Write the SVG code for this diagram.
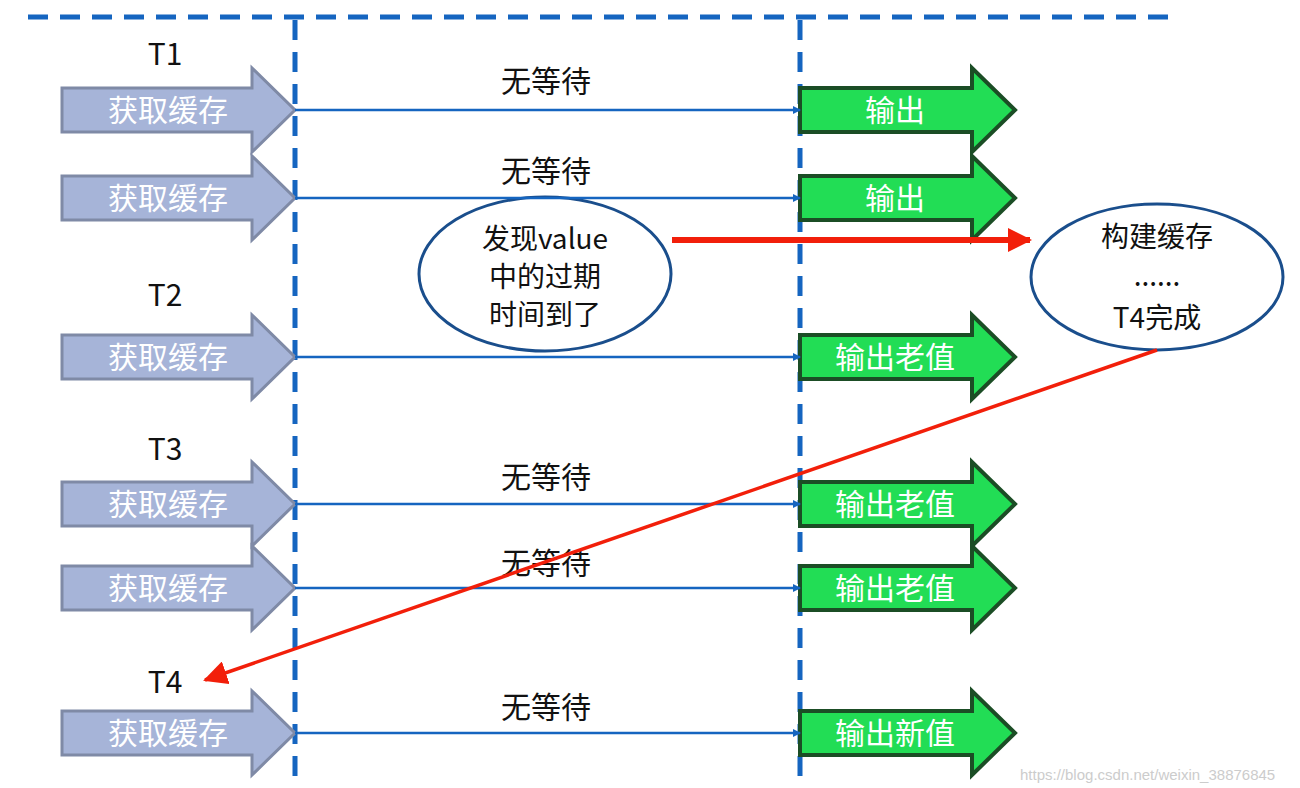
<svg xmlns="http://www.w3.org/2000/svg" width="1300" height="788" viewBox="0 0 1300 788">
<style>
.dash{stroke:#1565c0;stroke-width:5;stroke-dasharray:20 12;fill:none}
.in{fill:#a6b4d8;stroke:#7f8aa6;stroke-width:3}
.out{fill:#22dd55;stroke:#1b4d25;stroke-width:4}
.lbl{font-family:"Noto Sans CJK SC","Liberation Sans",sans-serif;font-size:30px;fill:#fff;text-anchor:middle}
.t{font-family:"Noto Sans CJK SC","Liberation Sans",sans-serif;font-size:30px;fill:#111;text-anchor:middle}
.e{font-family:"Noto Sans CJK SC","Liberation Sans",sans-serif;font-size:28px;fill:#111;text-anchor:middle}
.ln{stroke:#1565c0;stroke-width:2.5;fill:none}
</style>
<defs>
<marker id="ah" markerWidth="8" markerHeight="8" refX="7" refY="4" orient="auto" markerUnits="userSpaceOnUse"><path d="M0,0 L8,4 L0,8z" fill="#1565c0"/></marker>
<marker id="rh" markerWidth="24" markerHeight="24" refX="22" refY="12" orient="auto" markerUnits="userSpaceOnUse"><path d="M0,0 L24,12 L0,24z" fill="#f21f0a"/></marker>
<path id="ia" d="M62,-22 H252 V-42 L295,0 L252,42 V22 H62z"/>
<path id="oa" d="M800,-22 H972 V-42 L1015,0 L972,42 V22 H800z"/>
</defs>
<g id="frame">
<line class="dash" x1="28" y1="17" x2="1170" y2="17"/>
<line class="dash" x1="295" y1="20" x2="295" y2="788"/>
<line class="dash" x1="800" y1="20" x2="800" y2="788"/>
</g>
<g id="nodes">
<g id="r1" transform="translate(0,110)"><use href="#ia" class="in"/><text class="lbl" x="168" y="11">获取缓存</text><use href="#oa" class="out"/><text class="lbl" x="895" y="11">输出</text></g>
<g id="r2" transform="translate(0,198)"><use href="#ia" class="in"/><text class="lbl" x="168" y="11">获取缓存</text><use href="#oa" class="out"/><text class="lbl" x="895" y="11">输出</text></g>
<g id="r3" transform="translate(0,357)"><use href="#ia" class="in"/><text class="lbl" x="168" y="11">获取缓存</text><use href="#oa" class="out"/><text class="lbl" x="895" y="11">输出老值</text></g>
<g id="r4" transform="translate(0,504)"><use href="#ia" class="in"/><text class="lbl" x="168" y="11">获取缓存</text><use href="#oa" class="out"/><text class="lbl" x="895" y="11">输出老值</text></g>
<g id="r5" transform="translate(0,588)"><use href="#ia" class="in"/><text class="lbl" x="168" y="11">获取缓存</text><use href="#oa" class="out"/><text class="lbl" x="895" y="11">输出老值</text></g>
<g id="r6" transform="translate(0,733)"><use href="#ia" class="in"/><text class="lbl" x="168" y="11">获取缓存</text><use href="#oa" class="out"/><text class="lbl" x="895" y="11">输出新值</text></g>
<g id="e1"><ellipse cx="545" cy="274" rx="126" ry="77" fill="#fff" stroke="#1a4e8c" stroke-width="3"/>
<text class="e" x="545" y="249">发现value</text><text class="e" x="545" y="287">中的过期</text><text class="e" x="545" y="325">时间到了</text></g>
<g id="e2"><ellipse cx="1157" cy="277" rx="126" ry="73" fill="#fff" stroke="#1a4e8c" stroke-width="3"/>
<text class="e" x="1157" y="247">构建缓存</text><text class="e" x="1157" y="286">......</text><text class="e" x="1157" y="328">T4完成</text></g>
<g id="labels">
<text class="t" x="165" y="65">T1</text><text class="t" x="165" y="306">T2</text><text class="t" x="165" y="460">T3</text><text class="t" x="165" y="693">T4</text>
<text class="t" x="546" y="92">无等待</text><text class="t" x="546" y="182">无等待</text><text class="t" x="546" y="488">无等待</text><text class="t" x="546" y="574">无等待</text><text class="t" x="546" y="718">无等待</text>
</g>
</g>
<g id="connectors">
<line class="ln" x1="295" y1="110" x2="800" y2="110" marker-end="url(#ah)"/>
<line class="ln" x1="295" y1="198" x2="800" y2="198" marker-end="url(#ah)"/>
<line class="ln" x1="295" y1="357" x2="800" y2="357" marker-end="url(#ah)"/>
<line class="ln" x1="295" y1="504" x2="800" y2="504" marker-end="url(#ah)"/>
<line class="ln" x1="295" y1="588" x2="800" y2="588" marker-end="url(#ah)"/>
<line class="ln" x1="295" y1="733" x2="800" y2="733" marker-end="url(#ah)"/>
<line x1="672" y1="240" x2="1030" y2="240" stroke="#f21f0a" stroke-width="6" marker-end="url(#rh)"/>
<line x1="1157" y1="350" x2="205" y2="680" stroke="#f21f0a" stroke-width="3.5" marker-end="url(#rh)"/>
</g>
<text x="1020" y="780" font-family="Liberation Sans,sans-serif" font-size="15" fill="#ccc">https://blog.csdn.net/weixin_38876845</text>
</svg>
